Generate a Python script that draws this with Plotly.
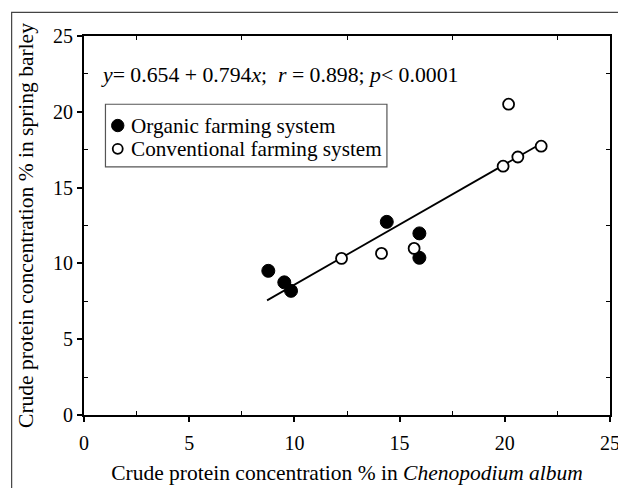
import plotly.graph_objects as go

# Data
org_x = [8.76, 9.52, 9.84, 14.39, 15.94, 15.94]
org_y = [9.51, 8.75, 8.19, 12.74, 11.98, 10.37]
conv_x = [12.24, 14.14, 15.69, 20.18, 19.92, 20.62, 21.73]
conv_y = [10.33, 10.66, 10.99, 20.50, 16.41, 17.02, 17.73]
intercept = 0.654
slope = 0.794
fit_x = [8.7, 21.8]
fit_y = [intercept + slope * v for v in fit_x]
tick_vals = [0, 5, 10, 15, 20, 25]
tick_text = ["0", "5", "10", "15", "20", "25"]
minor_vals = [2.5, 7.5, 12.5, 17.5, 22.5]
legend_names = ["Organic farming system", "Conventional farming system"]

FONT = "Liberation Serif"

fig = go.Figure()
fig.add_trace(go.Scatter(x=fit_x, y=fit_y, mode="lines",
                         line=dict(color="black", width=1.8), showlegend=False))
fig.add_trace(go.Scatter(x=org_x, y=org_y, mode="markers", name=legend_names[0],
                         showlegend=False,
                         marker=dict(symbol="circle", size=13, color="black",
                                     line=dict(color="black", width=1))))
fig.add_trace(go.Scatter(x=conv_x, y=conv_y, mode="markers", name=legend_names[1],
                         showlegend=False,
                         marker=dict(symbol="circle", size=11, color="white",
                                     line=dict(color="black", width=1.8))))

minor_common = dict(tickmode="array", tickvals=minor_vals,
                    ticks="inside", ticklen=4, tickwidth=1, tickcolor="black")
axis_common = dict(range=[0, 25], showgrid=False, zeroline=False, automargin=False,
                   showline=True, linecolor="black", linewidth=2,
                   tickmode="array", tickvals=tick_vals, ticktext=tick_text,
                   ticks="outside", ticklen=5, tickwidth=1.5, tickcolor="black",
                   ticklabeloverflow="allow",
                   tickfont=dict(family=FONT, size=20, color="black"),
                   minor=minor_common)
mirror_common = dict(range=[0, 25], showgrid=False, zeroline=False, automargin=False,
                     showline=True, linecolor="black", linewidth=2, showticklabels=False,
                     ticks="", tickmode="array", tickvals=tick_vals, minor=minor_common)

# manual legend (pixel -> paper conversion of the plot area)
L, R, T, B = 83.5, 610.5, 35.7, 415.0
def px(x):
    return (x - L) / (R - L)
def py(y):
    return (B - y) / (B - T)

legend_rows = [125.3, 148.6]
shapes = [
    dict(type="rect", xref="paper", yref="paper",
         x0=px(11), y0=py(520), x1=px(640), y1=py(12),
         line=dict(color="#444", width=1.2), layer="below"),
    dict(type="rect", xref="paper", yref="paper",
         x0=px(105), y0=py(166.7), x1=px(387), y1=py(104),
         line=dict(color="#555", width=1.2), fillcolor="white", layer="above"),
    dict(type="circle", xref="paper", yref="paper", xsizemode="pixel", ysizemode="pixel",
         xanchor=px(117.3), yanchor=py(legend_rows[0]), x0=-6.2, x1=6.2, y0=-6.2, y1=6.2,
         fillcolor="black", line=dict(color="black", width=1), layer="above"),
    dict(type="circle", xref="paper", yref="paper", xsizemode="pixel", ysizemode="pixel",
         xanchor=px(117.3), yanchor=py(legend_rows[1]), x0=-5, x1=5, y0=-5, y1=5,
         fillcolor="white", line=dict(color="black", width=1.8), layer="above"),
]

annotations = [dict(text="<i>y</i>= 0.654 + 0.794<i>x</i>;  <i>r</i> = 0.898; <i>p</i>< 0.0001",
                    xref="paper", yref="paper", x=px(99), y=py(74.5),
                    xanchor="left", yanchor="middle", showarrow=False,
                    font=dict(family=FONT, size=21.75, color="black"))]
for name, row in zip(legend_names, legend_rows):
    annotations.append(dict(text=name, xref="paper", yref="paper",
                            x=px(128.5), y=py(row), xanchor="left", yanchor="middle",
                            showarrow=False,
                            font=dict(family=FONT, size=21.2, color="black")))

fig.update_layout(
    width=618, height=488,
    margin=dict(l=L, r=618 - R, t=T, b=488 - B, autoexpand=False),
    paper_bgcolor="white", plot_bgcolor="white",
    font=dict(family=FONT, size=20, color="black"),
    showlegend=False,
    xaxis=dict(**axis_common, ticklabelstandoff=4,
               title=dict(text="Crude protein concentration % in <i>Chenopodium album</i>",
                          font=dict(family=FONT, size=21.5), standoff=12)),
    yaxis=dict(**axis_common,
               title=dict(text="Crude protein concentration % in spring barley",
                          font=dict(family=FONT, size=21.5), standoff=13)),
    xaxis2=dict(overlaying="x", side="top", **mirror_common),
    yaxis2=dict(overlaying="y", side="right", **mirror_common),
    annotations=annotations,
    shapes=shapes,
)

# dummy trace to activate the mirror axes
fig.add_trace(go.Scatter(x=[None], y=[None], xaxis="x2", yaxis="y2", showlegend=False))

fig.write_html("out.html", config={"displayModeBar": False},
               post_script="document.body.style.margin='0px';document.body.style.overflow='hidden';")
